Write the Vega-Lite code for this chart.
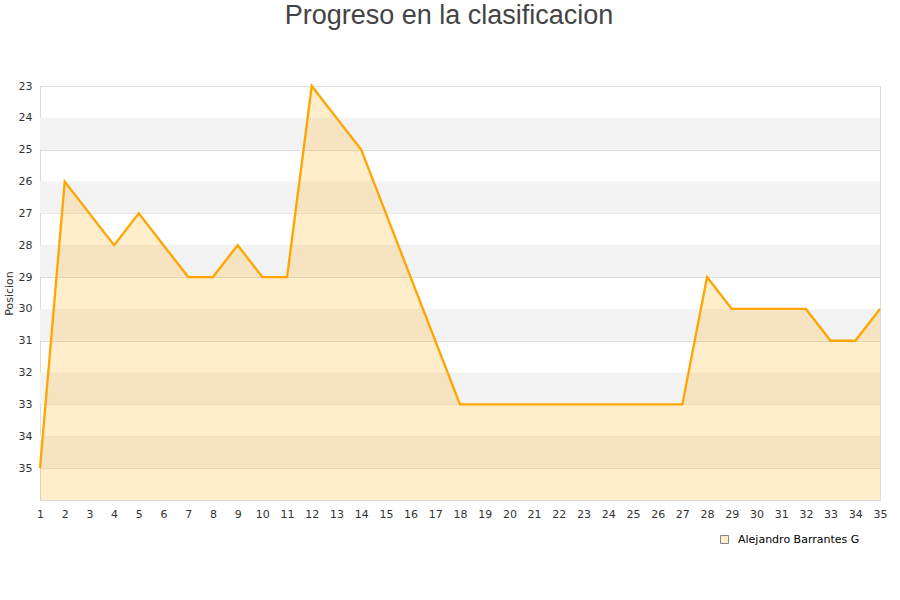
{
  "$schema": "https://vega.github.io/schema/vega-lite/v6.json",
  "autosize": "none",
  "width": 840,
  "height": 414,
  "padding": {"left": 40, "top": 86, "right": 20, "bottom": 100},
  "background": "white",
  "title": {"text": "Progreso en la clasificacion", "font": "Liberation Sans", "fontSize": 27, "fontWeight": "normal", "color": "#444444", "anchor": "middle", "offset": 50, "dx": -11, "frame": "group"},
  "config": {
    "view": {"stroke": "#dddddd"},
    "axis": {"labelFont": "DejaVu Sans", "labelFontSize": 11, "labelColor": "#333333", "titleFont": "DejaVu Sans", "titleFontSize": 11, "titleFontWeight": "normal", "titleColor": "#333333", "ticks": false, "domainColor": "#dddddd", "gridColor": "#dddddd", "labelOverlap": false, "labelSeparation": 0}
  },
  "datasets": {
    "bands": [
      {"posicion": 24, "to": 25}, {"posicion": 26, "to": 27}, {"posicion": 28, "to": 29},
      {"posicion": 30, "to": 31}, {"posicion": 32, "to": 33}, {"posicion": 34, "to": 35}
    ],
    "serie": [
      {"jornada": 1, "posicion": 35, "jugador": "Alejandro Barrantes G"},
      {"jornada": 2, "posicion": 26, "jugador": "Alejandro Barrantes G"},
      {"jornada": 3, "posicion": 27, "jugador": "Alejandro Barrantes G"},
      {"jornada": 4, "posicion": 28, "jugador": "Alejandro Barrantes G"},
      {"jornada": 5, "posicion": 27, "jugador": "Alejandro Barrantes G"},
      {"jornada": 6, "posicion": 28, "jugador": "Alejandro Barrantes G"},
      {"jornada": 7, "posicion": 29, "jugador": "Alejandro Barrantes G"},
      {"jornada": 8, "posicion": 29, "jugador": "Alejandro Barrantes G"},
      {"jornada": 9, "posicion": 28, "jugador": "Alejandro Barrantes G"},
      {"jornada": 10, "posicion": 29, "jugador": "Alejandro Barrantes G"},
      {"jornada": 11, "posicion": 29, "jugador": "Alejandro Barrantes G"},
      {"jornada": 12, "posicion": 23, "jugador": "Alejandro Barrantes G"},
      {"jornada": 13, "posicion": 24, "jugador": "Alejandro Barrantes G"},
      {"jornada": 14, "posicion": 25, "jugador": "Alejandro Barrantes G"},
      {"jornada": 15, "posicion": 27, "jugador": "Alejandro Barrantes G"},
      {"jornada": 16, "posicion": 29, "jugador": "Alejandro Barrantes G"},
      {"jornada": 17, "posicion": 31, "jugador": "Alejandro Barrantes G"},
      {"jornada": 18, "posicion": 33, "jugador": "Alejandro Barrantes G"},
      {"jornada": 19, "posicion": 33, "jugador": "Alejandro Barrantes G"},
      {"jornada": 20, "posicion": 33, "jugador": "Alejandro Barrantes G"},
      {"jornada": 21, "posicion": 33, "jugador": "Alejandro Barrantes G"},
      {"jornada": 22, "posicion": 33, "jugador": "Alejandro Barrantes G"},
      {"jornada": 23, "posicion": 33, "jugador": "Alejandro Barrantes G"},
      {"jornada": 24, "posicion": 33, "jugador": "Alejandro Barrantes G"},
      {"jornada": 25, "posicion": 33, "jugador": "Alejandro Barrantes G"},
      {"jornada": 26, "posicion": 33, "jugador": "Alejandro Barrantes G"},
      {"jornada": 27, "posicion": 33, "jugador": "Alejandro Barrantes G"},
      {"jornada": 28, "posicion": 29, "jugador": "Alejandro Barrantes G"},
      {"jornada": 29, "posicion": 30, "jugador": "Alejandro Barrantes G"},
      {"jornada": 30, "posicion": 30, "jugador": "Alejandro Barrantes G"},
      {"jornada": 31, "posicion": 30, "jugador": "Alejandro Barrantes G"},
      {"jornada": 32, "posicion": 30, "jugador": "Alejandro Barrantes G"},
      {"jornada": 33, "posicion": 31, "jugador": "Alejandro Barrantes G"},
      {"jornada": 34, "posicion": 31, "jugador": "Alejandro Barrantes G"},
      {"jornada": 35, "posicion": 30, "jugador": "Alejandro Barrantes G"}
    ]
  },
  "encoding": {
    "y": {"field": "posicion", "type": "quantitative", "scale": {"domain": [23, 36], "reverse": true, "zero": false, "nice": false}, "axis": {"values": [23,24,25,26,27,28,29,30,31,32,33,34,35], "grid": true, "title": "Posicion", "labelPadding": 8, "titlePadding": 4, "domain": true, "labelOverlap": false, "labelSeparation": 0}}
  },
  "layer": [
    {
      "data": {"name": "bands"},
      "mark": {"type": "rect", "color": "#f3f3f3"},
      "encoding": {
        "y2": {"field": "to"}
      }
    },
    {
      "data": {"name": "serie"},
      "encoding": {
        "x": {"field": "jornada", "type": "quantitative", "scale": {"domain": [1, 35], "nice": false, "zero": false}, "axis": {"values": [1,2,3,4,5,6,7,8,9,10,11,12,13,14,15,16,17,18,19,20,21,22,23,24,25,26,27,28,29,30,31,32,33,34,35], "grid": false, "title": null, "labelPadding": 8, "labelFlush": false, "labelOverlap": false, "labelSeparation": 0}}
      },
      "layer": [
        {
          "mark": {"type": "area", "color": "#FFA500", "opacity": 0.2},
          "encoding": {"y2": {"datum": 36}}
        },
        {
          "mark": {"type": "line", "color": "#FFA500", "strokeWidth": 2.3},
          "encoding": {}
        },
        {
          "mark": {"type": "point", "shape": "square", "filled": true, "opacity": 0},
          "encoding": {
            "fill": {"field": "jugador", "type": "nominal", "scale": {"range": ["#FFEDCC"]}, "legend": {"orient": "none", "legendX": 679, "legendY": 448, "title": null, "symbolType": "square", "symbolSize": 64, "symbolOpacity": 1, "symbolStrokeColor": "#888888", "symbolStrokeWidth": 1, "labelFont": "DejaVu Sans", "labelFontSize": 11, "labelColor": "#000000", "labelOffset": 8}},
            "stroke": {"field": "jugador", "type": "nominal", "scale": {"range": ["#888888"]}, "legend": {"orient": "none", "legendX": 679, "legendY": 448, "title": null, "symbolType": "square", "symbolSize": 64, "symbolOpacity": 1, "symbolStrokeColor": "#888888", "symbolStrokeWidth": 1, "labelFont": "DejaVu Sans", "labelFontSize": 11, "labelColor": "#000000", "labelOffset": 8}}
          }
        }
      ]
    }
  ]
}
